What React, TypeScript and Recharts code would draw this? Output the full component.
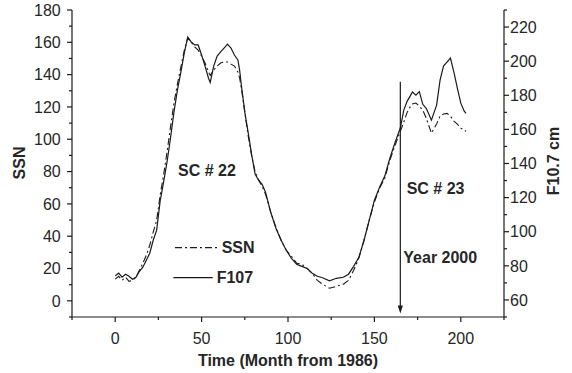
import React from "react";
import { LineChart, Line, XAxis, YAxis, ReferenceLine, Customized } from "recharts";

const months = [0,2,4,6,8,10,12,14,16,18,20,22,24,26,28,30,32,34,36,38,40,42,44,46,48,50,52,54,55,57,59,61,63,65,67,69,71,72,73,75,77,79,81,83,85,87,90,93,96,99,102,105,108,111,114,117,120,124,128,132,135,138,141,144,147,150,153,156,159,162,165,167,169,171,172,174,176,178,180,183,186,188,190,192,194,196,198,200,202,203];

const f107 = [74.1,75.7,73.3,75.1,73.9,72.1,73.3,76.8,79.2,83.3,87.4,95.0,100.9,117.9,129.1,140.9,154.9,170.1,183.0,193.6,204.8,214.2,211.2,209.5,209.5,203.6,197.1,190.0,187.5,197.1,203.0,205.4,207.7,210.0,207.7,203.6,200.7,194.8,186.0,170.1,157.8,144.9,133.7,130.2,127.8,123.2,111.4,102.0,95.0,89.1,84.4,80.9,79.7,78.5,75.6,73.9,73.0,71.2,72.7,73.3,75.1,79.7,85.0,95.0,106.7,118.5,126.1,132.6,143.2,152.5,160.8,171.3,176.6,180.1,181.9,180.1,182.1,174.7,172.4,165.4,174.2,188.9,197.1,199.5,201.8,193.6,184.2,175.4,170.7,169.4];

const ssn = [13.4,15.2,12.7,14.6,12.1,12.7,14.6,18.9,23.3,28.2,34.4,42.5,49.9,65.4,77.8,92.0,107.5,122.4,134.2,144.7,155.2,162.7,160.2,157.1,155.2,151.5,147.2,141.6,139.5,142.8,145.3,147.2,147.8,147.8,146.5,145.3,141.6,137.9,131.7,116.8,101.9,89.6,79.6,74.7,71.0,66.0,54.9,45.6,37.5,31.3,27.6,23.3,22.6,20.2,17.1,12.7,10.3,7.8,9.0,10.3,12.7,18.9,26.4,37.5,49.9,61.1,69.7,75.9,87.1,96.4,105.0,110.6,116.8,120.5,121.8,122.4,120.5,118.0,113.1,103.8,109.4,114.3,115.6,116.0,114.3,111.2,109.4,106.9,105.7,105.0];

const xTicks = [-25,0,25,50,75,100,125,150,175,200,225];
const xLabels = [0,50,100,150,200];
const leftTicks = [-10,0,10,20,30,40,50,60,70,80,90,100,110,120,130,140,150,160,170,180];
const leftLabels = [0,20,40,60,80,100,120,140,160,180];
const rightTicks = [50,60,70,80,90,100,110,120,130,140,150,160,170,180,190,200,210,220,230];
const rightLabels = [60,80,100,120,140,160,180,200,220];

const yearMonth = 165;
const arrowTop = 135.6;
const arrowBottom = -7.9;

const data = months.map((m, i) => ({ month: m, ssn: ssn[i], f107: f107[i] }));

const FONT = "'Liberation Sans', Arial, Helvetica, sans-serif";
const INK = "#1a1a1a";
const TXT = "#262626";

const BottomTick = (props: any) => {
  const { x, y, payload } = props;
  const v = payload.value;
  const major = v % 50 === 0;
  const len = major ? 5 : 3;
  return (
    <g>
      <line x1={x} y1={y} x2={x} y2={y + len} stroke={INK} strokeWidth={1.2} />
      {xLabels.includes(v) && (
        <text x={x} y={y + 26.6} textAnchor="middle" fontSize={16} fill={TXT} fontFamily={FONT}>
          {v}
        </text>
      )}
    </g>
  );
};

const TopTick = (props: any) => {
  const { x, y, payload } = props;
  const v = payload.value;
  const major = v % 50 === 0;
  const len = major ? 5 : 3;
  return <line x1={x} y1={y} x2={x} y2={y + len} stroke={INK} strokeWidth={1.2} />;
};

const LeftTick = (props: any) => {
  const { x, y, payload } = props;
  const v = payload.value;
  const major = v % 20 === 0;
  const len = major ? 5 : 3;
  return (
    <g>
      <line x1={x - len} y1={y} x2={x} y2={y} stroke={INK} strokeWidth={1.2} />
      {leftLabels.includes(v) && (
        <text x={x - 11.3} y={y + 5.7} textAnchor="end" fontSize={16} fill={TXT} fontFamily={FONT}>
          {v}
        </text>
      )}
    </g>
  );
};

const RightTick = (props: any) => {
  const { x, y, payload } = props;
  const v = payload.value;
  const major = v % 20 === 0;
  const len = major ? 5 : 3;
  return (
    <g>
      <line x1={x} y1={y} x2={x + len} y2={y} stroke={INK} strokeWidth={1.2} />
      {rightLabels.includes(v) && (
        <text x={x + 6} y={y + 5.7} textAnchor="start" fontSize={16} fill={TXT} fontFamily={FONT}>
          {v}
        </text>
      )}
    </g>
  );
};

const ArrowShape = (props: any) => {
  const { x1, y1, x2, y2 } = props;
  const top = Math.min(y1, y2);
  const bot = Math.max(y1, y2);
  return (
    <g>
      <line x1={x1} y1={top} x2={x2} y2={bot - 6} stroke={INK} strokeWidth={1.2} />
      <polygon points={`${x2 - 2.6},${bot - 8} ${x2 + 2.6},${bot - 8} ${x2},${bot}`} fill={INK} />
    </g>
  );
};

const Annotations = () => (
  <g fontFamily={FONT} fontWeight="bold" fontSize={16} fill={TXT}>
    <text x={178} y={176}>SC # 22</text>
    <text x={406.7} y={193.5}>SC # 23</text>
    <text x={403.3} y={262.7}>Year 2000</text>
    <line x1={175} y1={247.7} x2={217} y2={247.7} stroke={INK} strokeWidth={1.2} strokeDasharray="7 3 2 3" />
    <text x={221.7} y={253.3}>SSN</text>
    <line x1={173.3} y1={277.7} x2={212.7} y2={277.7} stroke={INK} strokeWidth={1.2} />
    <text x={216.7} y={283.3}>F107</text>
    <text x={288} y={366} textAnchor="middle">Time (Month from 1986)</text>
    <text x={25} y={163} textAnchor="middle" transform="rotate(-90 25 163)">SSN</text>
    <text x={559} y={161} textAnchor="middle" transform="rotate(-90 559 161)">F10.7 cm</text>
  </g>
);

export default function App() {
  return (
    <div style={{ position: "absolute", left: 0, top: 0, width: 572, height: 373, fontFamily: FONT }}>
      <LineChart width={572} height={373} data={data} margin={{ top: 10, right: 0, bottom: 0, left: 0 }}>
        <XAxis
          xAxisId="bottom"
          dataKey="month"
          type="number"
          domain={[-25, 225]}
          ticks={xTicks}
          allowDataOverflow
          height={56}
          tickSize={0}
          tickMargin={0}
          tickLine={false}
          tick={<BottomTick />}
          axisLine={{ stroke: INK, strokeWidth: 1.2 }}
          interval={0}
        />
        <XAxis
          xAxisId="top"
          orientation="top"
          dataKey="month"
          type="number"
          domain={[-25, 225]}
          ticks={xTicks}
          allowDataOverflow
          height={0}
          tickSize={0}
          tickMargin={0}
          tickLine={false}
          tick={<TopTick />}
          axisLine={{ stroke: INK, strokeWidth: 1.2 }}
          interval={0}
        />
        <YAxis
          yAxisId="left"
          orientation="left"
          type="number"
          domain={[-10, 180]}
          ticks={leftTicks}
          allowDataOverflow
          width={72}
          tickSize={0}
          tickMargin={0}
          tickLine={false}
          tick={<LeftTick />}
          axisLine={{ stroke: INK, strokeWidth: 1.2 }}
          interval={0}
        />
        <YAxis
          yAxisId="right"
          orientation="right"
          type="number"
          domain={[50, 230]}
          ticks={rightTicks}
          allowDataOverflow
          width={68}
          tickSize={0}
          tickMargin={0}
          tickLine={false}
          tick={<RightTick />}
          axisLine={{ stroke: INK, strokeWidth: 1.2 }}
          interval={0}
        />
        <Line
          xAxisId="bottom"
          yAxisId="left"
          type="linear"
          dataKey="ssn"
          stroke={INK}
          strokeWidth={1.1}
          strokeDasharray="7 3 2 3"
          dot={false}
          isAnimationActive={false}
        />
        <Line
          xAxisId="bottom"
          yAxisId="right"
          type="linear"
          dataKey="f107"
          stroke={INK}
          strokeWidth={1.2}
          dot={false}
          isAnimationActive={false}
        />
        <ReferenceLine
          xAxisId="bottom"
          yAxisId="left"
          segment={[{ x: yearMonth, y: arrowTop }, { x: yearMonth, y: arrowBottom }]}
          shape={<ArrowShape />}
          ifOverflow="visible"
        />
        <Customized component={Annotations} />
      </LineChart>
    </div>
  );
}
